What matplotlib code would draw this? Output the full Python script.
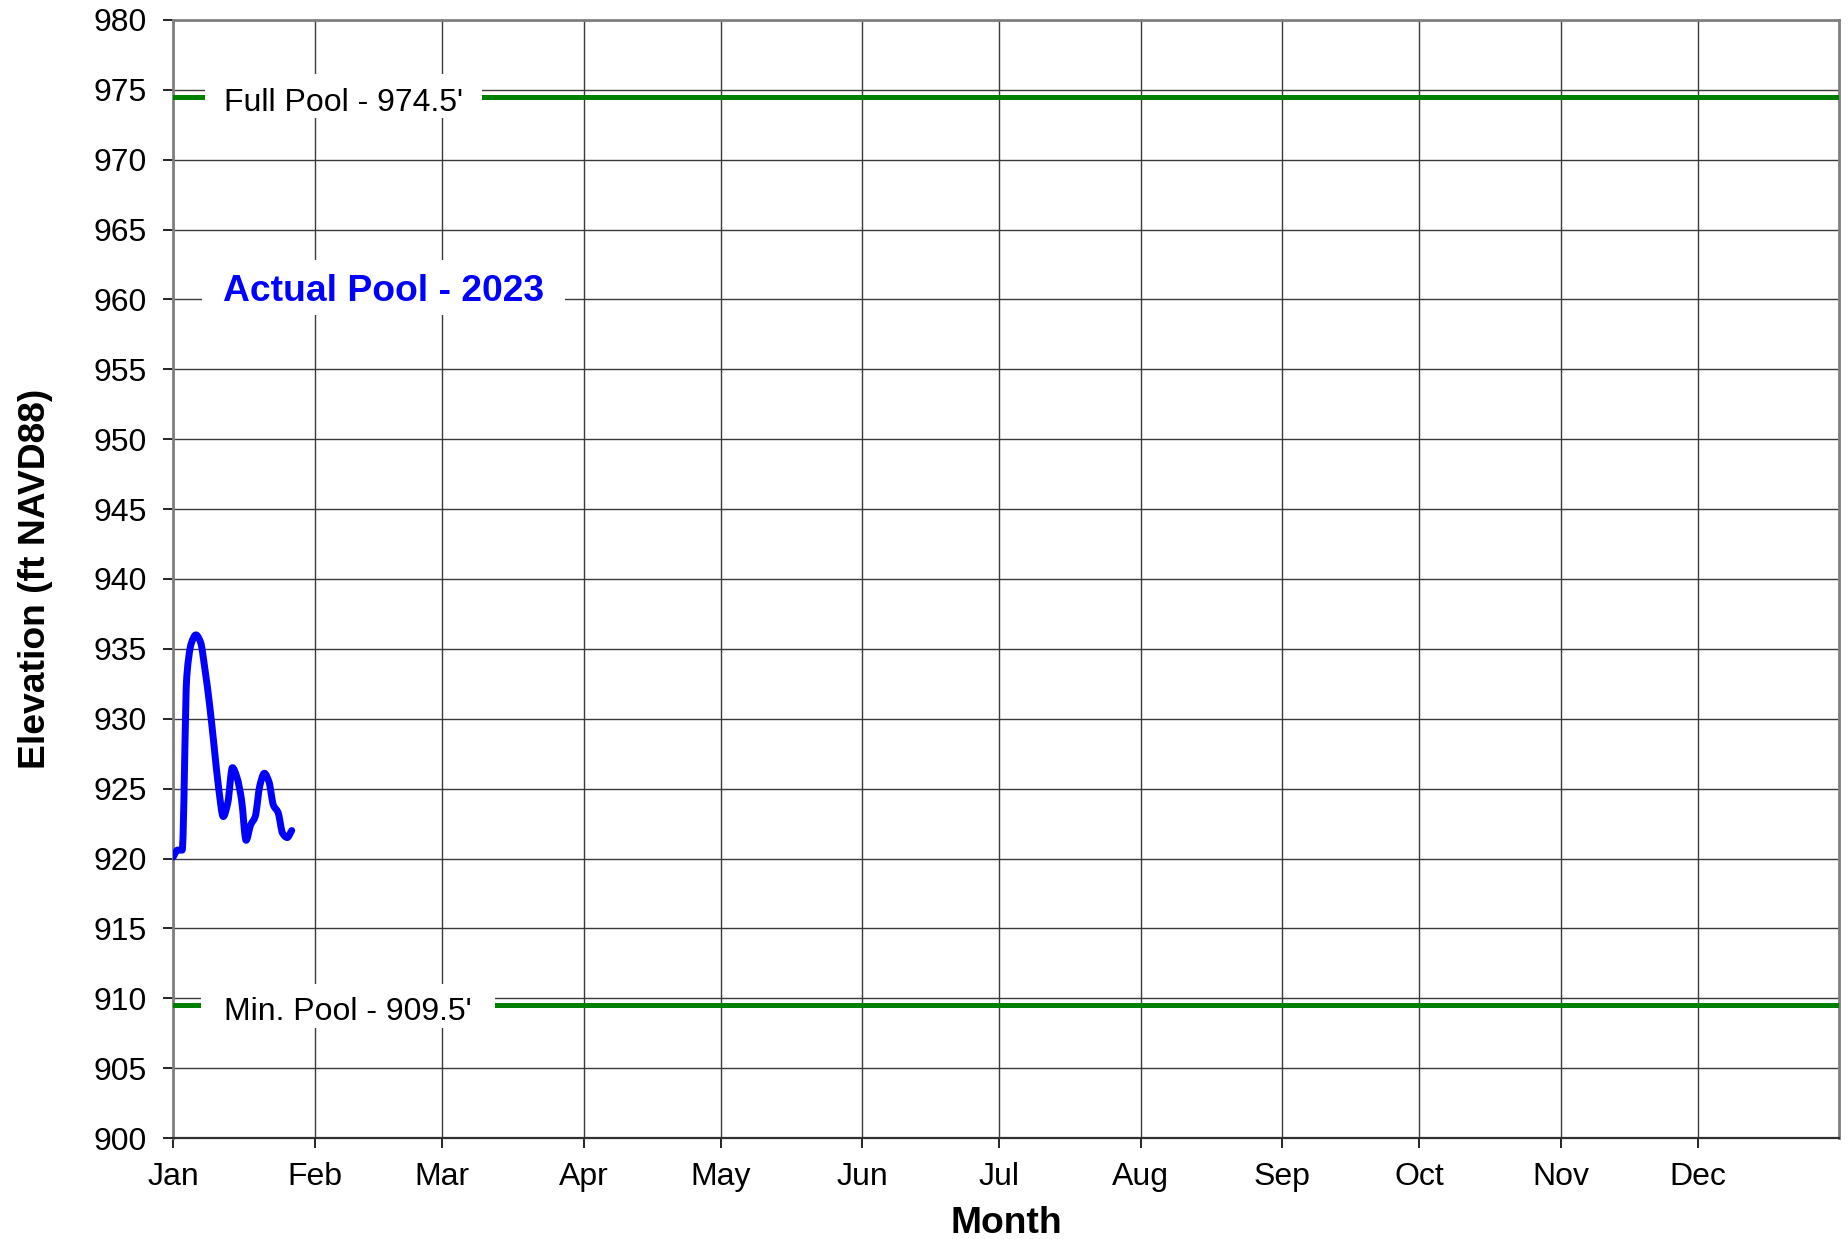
import matplotlib
matplotlib.use("Agg")
from matplotlib import pyplot as plt
from matplotlib.path import Path
from matplotlib.patches import PathPatch, Rectangle

# Reservoir elevation record, day of year (0 = Jan 1) vs. ft NAVD88
days = [0, 1, 2, 3, 4, 5, 6, 7, 8, 9, 10, 11, 12, 13,
        14, 15, 16, 17, 18, 19, 20, 21, 22, 23, 24, 25, 26]
elevation = [920.1, 920.6, 920.6, 933.0, 935.4, 936.0, 935.5, 933.5, 931.0,
             928.0, 925.0, 923.0, 924.0, 926.5, 925.8, 924.2, 921.3, 922.4,
             923.0, 925.2, 926.1, 925.5, 923.8, 923.3, 921.8, 921.5, 922.0]

full_pool = 974.5
min_pool = 909.5

month_starts = [0, 31, 59, 90, 120, 151, 181, 212, 243, 273, 304, 334]
month_names = ["Jan", "Feb", "Mar", "Apr", "May", "Jun",
               "Jul", "Aug", "Sep", "Oct", "Nov", "Dec"]
y_ticks = list(range(900, 981, 5))


def smooth_path(xs, ys):
    # monotone cubic Bezier through every point, no overshoot at steps
    n = len(xs)
    slopes = [(ys[i + 1] - ys[i]) / (xs[i + 1] - xs[i]) for i in range(n - 1)]
    tang = [slopes[0]]
    for i in range(1, n - 1):
        d0, d1 = slopes[i - 1], slopes[i]
        tang.append(0.0 if d0 * d1 <= 0 else 2 * d0 * d1 / (d0 + d1))
    tang.append(slopes[-1])
    verts = [(xs[0], ys[0])]
    codes = [Path.MOVETO]
    for i in range(n - 1):
        h = (xs[i + 1] - xs[i]) / 3.0
        verts += [(xs[i] + h, ys[i] + h * tang[i]),
                  (xs[i + 1] - h, ys[i + 1] - h * tang[i + 1]),
                  (xs[i + 1], ys[i + 1])]
        codes += [Path.CURVE4] * 3
    return Path(verts, codes)


plt.rcParams['font.family'] = ['Liberation Sans', 'DejaVu Sans']

fig = plt.figure(figsize=(18.49, 12.39), dpi=100)
ax = fig.add_axes([0.0936, 0.0815, 0.901, 0.9024])

ax.set_xlim(0, 365)
ax.set_ylim(900, 980)
ax.set_xticks(month_starts)
ax.set_xticklabels(month_names)
ax.set_yticks(y_ticks)
ax.tick_params(axis='both', labelsize=23, length=7, width=1.2, direction='out')
ax.tick_params(axis='y', pad=12)
ax.tick_params(axis='x', pad=10)

ax.grid(True, color='#3a3a3a', linewidth=1.0)
ax.set_axisbelow(True)
for side in ['left', 'top', 'right']:
    ax.spines[side].set_color('#808080')
    ax.spines[side].set_linewidth(2.0)
ax.spines['bottom'].set_color('#303030')
ax.spines['bottom'].set_linewidth(1.6)

ax.axhline(full_pool, color='#008000', linewidth=3.6, zorder=3)
ax.axhline(min_pool, color='#008000', linewidth=3.6, zorder=3)

curve = PathPatch(smooth_path(days, elevation), facecolor='none',
                  edgecolor='#0000ff', linewidth=5.0, joinstyle='round',
                  capstyle='round', zorder=4)
ax.add_patch(curve)

# white label boxes that mask grid and pool lines
for x0, x1, y0, y1 in [(7.0, 67.7, 973.0, 976.1),
                       (6.1, 70.6, 907.9, 911.0),
                       (6.3, 85.9, 958.9, 962.8)]:
    ax.add_patch(Rectangle((x0, y0), x1 - x0, y1 - y0, facecolor='white',
                           edgecolor='none', zorder=4.5))

ax.text(11.2, full_pool - 0.45, "Full Pool - 974.5'", fontsize=23,
        va='center', ha='left', zorder=5)
ax.text(11.2, min_pool - 0.45, "Min. Pool - 909.5'", fontsize=23,
        va='center', ha='left', zorder=5)
ax.text(11.0, 960.55, "Actual Pool - 2023", fontsize=26.8, fontweight='bold',
        color='#0000ff', va='center', ha='left', zorder=5)

ax.set_ylabel("Elevation (ft NAVD88)", fontsize=26.8, fontweight='bold', labelpad=29)
ax.set_xlabel("Month", fontsize=26.8, fontweight='bold', labelpad=10)

fig.savefig("out.png", dpi=100)
